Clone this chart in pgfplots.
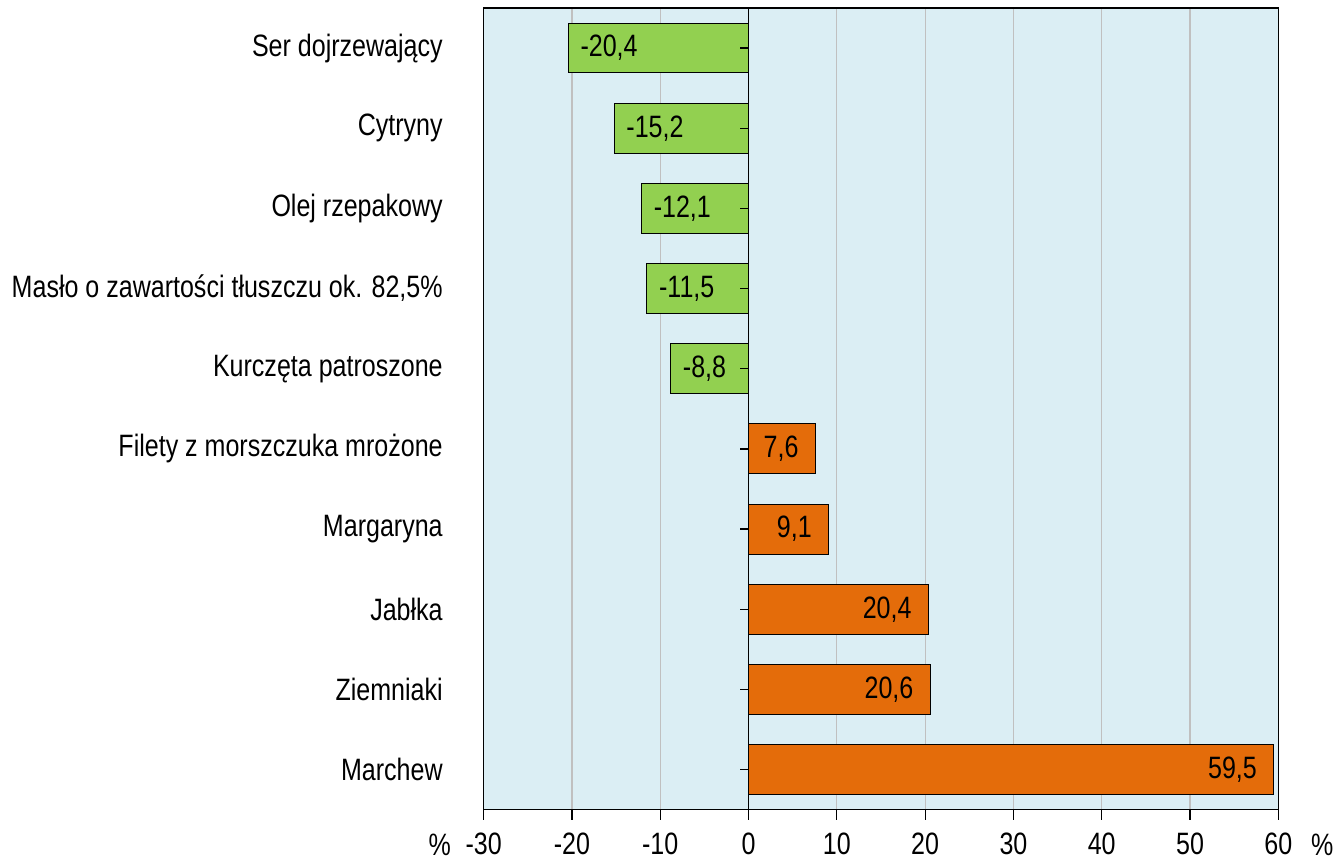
\documentclass[border=0pt]{standalone}
\usepackage{pgfplots}
\pgfplotsset{compat=1.18}
\usepackage{fontspec}
\setmainfont{Liberation Sans}[FakeStretch=0.81]
\definecolor{bgblue}{RGB}{219,238,244}
\definecolor{negreen}{RGB}{146,208,80}
\definecolor{posorange}{RGB}{228,108,10}
\definecolor{gridgray}{RGB}{192,192,192}

\begin{document}
\begin{tikzpicture}[font=\fontsize{15.5}{18}\selectfont]
\begin{axis}[
  name=ax,
  scale only axis,
  width=398.5pt, height=402pt,
  xbar, bar width=25pt, bar shift=0pt,
  xmin=-30, xmax=60,
  ymin=-0.5, ymax=9.5,
  xtick={-30,-20,...,60},
  xticklabels={-30,-20,-10,0,10,20,30,40,50,60},
  xtick pos=bottom, tick align=outside,
  major tick length=5pt,
  xtick style={black, line width=0.6pt},
  ytick={0,...,9},
  yticklabels={Marchew, Ziemniaki, Jabłka, Margaryna,
    Filety z morszczuka mrożone, Kurczęta patroszone,
    {Masło o zawartości tłuszczu ok. 82,5\%}, Olej rzepakowy,
    Cytryny, Ser dojrzewający},
  ytick style={draw=none},
  yticklabel style={xshift=-12pt},
  xticklabel style={yshift=-3pt},
  xmajorgrids, grid style={gridgray, line width=0.6pt},
  axis background/.style={fill=bgblue},
  axis line style={black, line width=0.6pt},
  point meta=explicit symbolic,
  nodes near coords,
]
\addplot[fill=negreen, draw=black, line width=0.5pt,
  nodes near coords style={anchor=west, xshift=2.5pt, black}]
  coordinates {
  (-20.4,9) [-20,4]
  (-15.2,8) [-15,2]
  (-12.1,7) [-12,1]
  (-11.5,6) [-11,5]
  (-8.8,5)  [-8,8]
};
\addplot[fill=posorange, draw=black, line width=0.5pt,
  nodes near coords style={anchor=east, xshift=-5pt, black}]
  coordinates {
  (7.6,4)  [7,6]
  (9.1,3)  [9,1]
  (20.4,2) [20,4]
  (20.6,1) [20,6]
  (59.5,0) [59,5]
};
\draw[black, line width=0.6pt] (axis cs:0,-0.5) -- (axis cs:0,9.5);
\pgfplotsinvokeforeach{0,...,9}{
  \draw[black, line width=0.6pt] (axis cs:0,#1) -- ++(-4.5pt,0pt);
}
\end{axis}
\node[anchor=center] at ([xshift=-22pt,yshift=-17.5pt]ax.south west) {\%};
\node[anchor=center] at ([xshift=22pt,yshift=-17.5pt]ax.south east) {\%};
\path ([yshift=4pt]ax.north);
\path ([xshift=29pt]ax.east);
\path ([xshift=-242.5pt]ax.west);
\end{tikzpicture}
\end{document}
